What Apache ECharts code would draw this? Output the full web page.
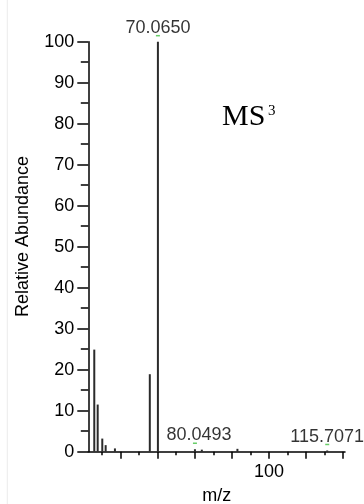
<!DOCTYPE html>
<html>
<head>
<meta charset="utf-8">
<script src="https://cdn.jsdelivr.net/npm/echarts@6/dist/echarts.min.js"></script>
<style>
  html, body { margin: 0; padding: 0; background: #fff; }
  #chart { width: 364px; height: 504px; }
</style>
</head>
<body>
<div id="chart"></div>
<script>
// MS3 product-ion spectrum: centroid peaks (m/z, relative abundance %)
const peakMz        = [52.91, 53.83, 55.07, 55.98, 58.48, 67.88, 70.065, 80.0493, 81.9, 91.5, 115.7071];
const peakAbundance = [24.9, 11.5, 3.2, 1.6, 0.8, 18.9, 100, 0.6, 0.5, 0.7, 0.3];

// peaks annotated with their accurate mass
const labeledMz = [70.065, 80.0493, 115.7071];

// axis ticks
const mzMajorTicks  = [60, 70, 80, 90, 100, 110, 120];
const mzMinorTicks  = [55, 65, 75, 85, 95, 105, 115];
const mzTickLabels  = [100];
const mzRange       = [51.3, 120.5];
const abundanceMax  = 100;

const FONT = '"Liberation Sans", Arial, Helvetica, sans-serif';
const SERIF = '"Liberation Serif", "Times New Roman", Times, serif';

const peaks = peakMz.map((m, i) => [m, peakAbundance[i]]);
const labeled = labeledMz.map(m => {
  const i = peakMz.indexOf(m);
  const item = { value: [m, peakAbundance[i]] };
  if (m === 80.0493) item.label = { offset: [4, 0] };
  return item;
});

const chart = echarts.init(document.getElementById('chart'), null, { renderer: 'canvas' });

chart.setOption({
  animation: false,
  backgroundColor: '#fff',
  grid: { left: 88.3, right: 19, top: 41.7, bottom: 52.3, containLabel: false, outerBoundsMode: 'none' },
  xAxis: [
    {
      type: 'value',
      min: mzRange[0],
      max: mzRange[1],
      position: 'bottom',
      name: 'm/z',
      nameLocation: 'middle',
      nameGap: 35,
      nameTextStyle: { fontFamily: FONT, fontSize: 18, color: '#000' },
      axisLine: { show: true, onZero: false, lineStyle: { color: '#000', width: 1.5 } },
      axisTick: { show: true, customValues: mzMajorTicks, length: 7, lineStyle: { color: '#000', width: 1.5 } },
      axisLabel: { show: true, customValues: mzTickLabels, margin: 11, fontFamily: FONT, fontSize: 18, color: '#000' },
      splitLine: { show: false }
    },
    {
      type: 'value',
      min: mzRange[0],
      max: mzRange[1],
      position: 'bottom',
      offset: 0,
      axisLine: { show: false },
      axisTick: { show: true, customValues: mzMinorTicks, length: 3.5, lineStyle: { color: '#000', width: 1.5 } },
      axisLabel: { show: false },
      splitLine: { show: false }
    }
  ],
  yAxis: {
    type: 'value',
    min: 0,
    max: abundanceMax,
    interval: 10,
    axisLine: { show: true, lineStyle: { color: '#000', width: 1.5 } },
    axisTick: { show: true, length: 11, lineStyle: { color: '#000', width: 1.5 } },
    minorTick: { show: true, splitNumber: 2, length: 7.5, lineStyle: { color: '#000', width: 1.5 } },
    axisLabel: { margin: 14, fontFamily: FONT, fontSize: 18, color: '#000' },
    splitLine: { show: false }
  },
  graphic: [
    { type: 'line', silent: true, shape: { x1: 7.3, y1: 0, x2: 7.3, y2: 504 }, style: { stroke: '#ececec', lineWidth: 1 } },
    {
      type: 'text', silent: true, x: 23.3, y: 236.5, rotation: Math.PI / 2,
      style: { text: 'Relative Abundance', font: '18px ' + FONT, fill: '#000', align: 'center', verticalAlign: 'middle' }
    },
    { type: 'text', silent: true, x: 222, y: 116.7, style: { text: 'MS', font: '30px ' + SERIF, fill: '#000', align: 'left', verticalAlign: 'middle' } },
    { type: 'text', silent: true, x: 268, y: 111, style: { text: '3', font: '15px ' + SERIF, fill: '#000', align: 'left', verticalAlign: 'middle' } }
  ],
  series: [
    {
      type: 'bar',
      xAxisIndex: 0,
      yAxisIndex: 0,
      data: peaks,
      barWidth: 2,
      silent: true,
      itemStyle: { color: '#2b2b2b' }
    },
    {
      type: 'scatter',
      xAxisIndex: 0,
      yAxisIndex: 0,
      data: labeled,
      symbol: 'rect',
      symbolSize: [4, 1.5],
      symbolOffset: [0, -6],
      silent: true,
      itemStyle: { color: '#44c244' },
      label: {
        show: true,
        position: 'top',
        distance: -2,
        fontFamily: FONT,
        fontSize: 18,
        color: '#000',
        formatter: p => p.value[0].toFixed(4)
      },
      z: 5
    }
  ]
});
</script>
</body>
</html>
